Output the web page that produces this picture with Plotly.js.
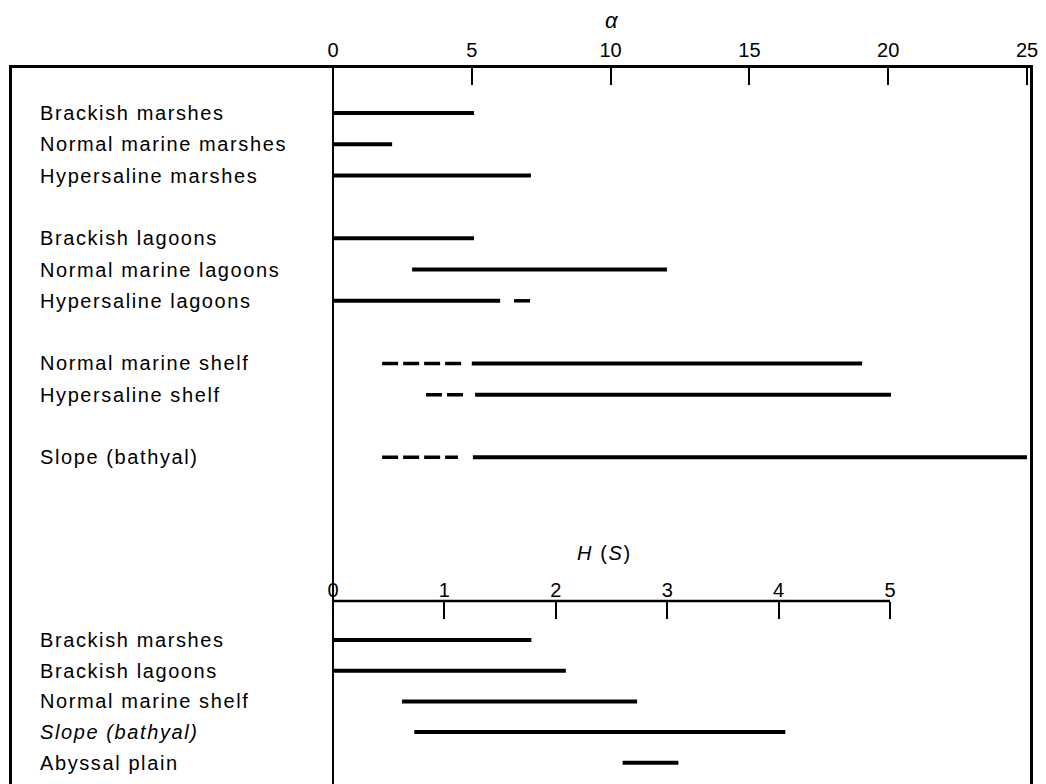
<!DOCTYPE html>
<html><head><meta charset="utf-8">
<script src="https://cdn.plot.ly/plotly-3.0.1.min.js"></script>
<style>
html,body{margin:0;padding:0;background:#fff;}
#chart{width:1046px;height:784px;}
.annotation-text{letter-spacing:1.6px;}
</style>
</head><body><div id="chart"></div>
<script>
// ---- data (alpha index) ----
const alphaCategories = ["Brackish marshes","Normal marine marshes","Hypersaline marshes",
  "Brackish lagoons","Normal marine lagoons","Hypersaline lagoons",
  "Normal marine shelf","Hypersaline shelf","Slope (bathyal)"];
const alphaGroup    = [0,0,0,1,1,1,2,2,3];
const alphaSolidMin = [0,0,0,0,2.85,0,5.0,5.12,5.04];
const alphaSolidMax = [5.08,2.13,7.13,5.08,12.03,6.02,19.06,20.1,25.0];
const alphaDashMin  = [null,null,null,null,null,6.52,1.77,3.35,1.77];
const alphaDashMax  = [null,null,null,null,null,7.2,4.72,4.72,4.5];
const alphaTicks    = [0,5,10,15,20,25];

// ---- data (H(S) index) ----
const hCategories = ["Brackish marshes","Brackish lagoons","Normal marine shelf","Slope (bathyal)","Abyssal plain"];
const hMin = [0,0,0.62,0.73,2.60];
const hMax = [1.78,2.09,2.73,4.06,3.10];
const hTicks = [0,1,2,3,4,5];

// ---- layout constants ----
const hRowStart = 16.84, hRowStep = 0.98;
const hAxisPos = 0.2556;
const alphaSlot = alphaCategories.map((c,i)=> i + alphaGroup[i]);
const hSlot = hCategories.map((c,i)=> hRowStart + i*hRowStep);

function segs(mins, maxs, slots){
  const x=[], y=[];
  mins.forEach((m,i)=>{
    if(m===null || maxs[i]===null) return;
    x.push(m, maxs[i], null); y.push(slots[i], slots[i], null);
  });
  return {x,y};
}

const s1 = segs(alphaSolidMin, alphaSolidMax, alphaSlot);
const d1 = segs(alphaDashMin, alphaDashMax, alphaSlot);
const s2 = segs(hMin, hMax, hSlot);

const traces = [
  {type:'scatter', mode:'lines', x:s1.x, y:s1.y, xaxis:'x', yaxis:'y',
   line:{color:'#000', width:4}, hoverinfo:'skip', connectgaps:false},
  {type:'scatter', mode:'lines', x:d1.x, y:d1.y, xaxis:'x', yaxis:'y',
   line:{color:'#000', width:3.5, dash:'16px,5px'}, hoverinfo:'skip', connectgaps:false},
  {type:'scatter', mode:'lines', x:s2.x, y:s2.y, xaxis:'x2', yaxis:'y',
   line:{color:'#000', width:4}, hoverinfo:'skip', connectgaps:false}
];

const labelFont = {family:'"Liberation Sans", Arial, Helvetica, sans-serif', size:20, color:'#000'};
const annotations = [];
alphaCategories.forEach((c,i)=>{
  annotations.push({text:c, xref:'paper', yref:'y', x:0.026, y:alphaSlot[i],
    xanchor:'left', yanchor:'middle', showarrow:false, font:labelFont});
});
hCategories.forEach((c,i)=>{
  annotations.push({text: i===3 ? '<i>'+c+'</i>' : c, xref:'paper', yref:'y', x:0.026, y:hSlot[i],
    xanchor:'left', yanchor:'middle', showarrow:false, font:labelFont});
});
annotations.push({text:'<i>α</i>', xref:'x', yref:'paper', x:10.05, y:1.067,
  xanchor:'center', yanchor:'middle', showarrow:false, font:{family:labelFont.family, size:22, color:'#000'}});
annotations.push({text:'<i>H</i> (<i>S</i>)', xref:'x2', yref:'paper', x:2.44, y:0.3226,
  xanchor:'center', yanchor:'middle', showarrow:false, font:labelFont});

const layout = {
  width:1046, height:784,
  margin:{l:12, r:16, t:68, b:0, pad:0},
  paper_bgcolor:'#fff', plot_bgcolor:'#fff',
  showlegend:false,
  font:labelFont,
  xaxis:{range:[-11.563,25.108], side:'top', showline:true, linewidth:3, linecolor:'#000',
    ticks:'inside', ticklen:17, tickwidth:2, tickcolor:'#000', tickvals:alphaTicks,
    showgrid:false, zeroline:false, tickfont:{size:20, color:'#000'}, fixedrange:true},
  xaxis2:{overlaying:'x', anchor:'free', position:hAxisPos, side:'top', range:[-2.8815,6.2567],
    showline:false, ticks:'inside', ticklen:17, tickwidth:2, tickcolor:'#000', tickvals:hTicks,
    showgrid:false, zeroline:false, tickfont:{size:20, color:'#000'}, fixedrange:true},
  yaxis:{range:[21.438,-1.4377], showline:true, mirror:true, linewidth:3, linecolor:'#000',
    showticklabels:false, ticks:'', showgrid:false, zeroline:false, fixedrange:true},
  shapes:[
    {type:'line', xref:'x', yref:'paper', x0:0, x1:0, y0:0, y1:1, line:{color:'#000', width:2}},
    {type:'line', xref:'x2', yref:'paper', x0:0, x1:5, y0:hAxisPos, y1:hAxisPos, line:{color:'#000', width:2.5}}
  ],
  annotations:annotations
};

Plotly.newPlot('chart', traces, layout, {staticPlot:true, displayModeBar:false});
</script>
</body></html>
